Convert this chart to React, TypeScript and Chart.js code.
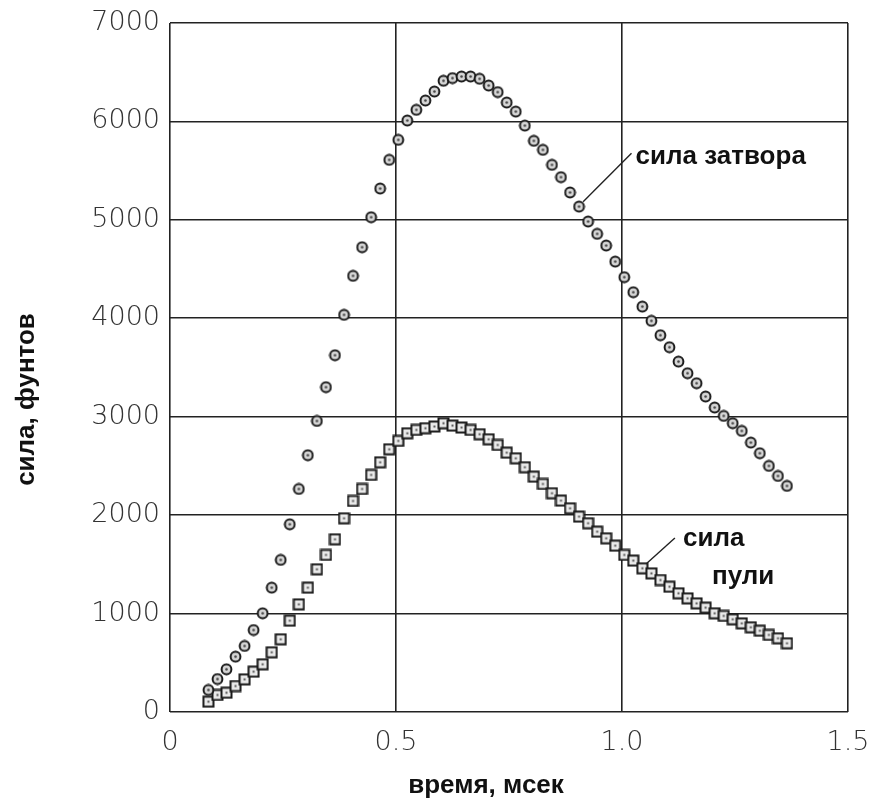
import React, { useEffect, useRef } from "react";
import { Chart, registerables } from "chart.js";

Chart.register(...registerables);

// time, msec
const timeMs = [
  0.085, 0.105, 0.125, 0.145, 0.165, 0.185, 0.205, 0.225, 0.245, 0.265,
  0.285, 0.305, 0.325, 0.345, 0.365, 0.385, 0.405, 0.425, 0.445, 0.465,
  0.485, 0.505, 0.525, 0.545, 0.565, 0.585, 0.605, 0.625, 0.645, 0.665,
  0.685, 0.705, 0.725, 0.745, 0.765, 0.785, 0.805, 0.825, 0.845, 0.865,
  0.885, 0.905, 0.925, 0.945, 0.965, 0.985, 1.005, 1.025, 1.045, 1.065,
  1.085, 1.105, 1.125, 1.145, 1.165, 1.185, 1.205, 1.225, 1.245, 1.265,
  1.285, 1.305, 1.325, 1.345, 1.365,
];

// сила затвора (circles), lb
const boltForce = [
  224, 335, 434, 562, 671, 833, 1003, 1263, 1545, 1907,
  2266, 2609, 2957, 3300, 3625, 4035, 4431, 4722, 5027, 5318,
  5610, 5813, 6009, 6118, 6212, 6304, 6413, 6440, 6456, 6456,
  6433, 6365, 6298, 6192, 6100, 5958, 5803, 5711, 5559, 5434,
  5278, 5135, 4983, 4858, 4739, 4576, 4418, 4265, 4119, 3974,
  3828, 3706, 3560, 3442, 3340, 3205, 3093, 3008, 2934, 2856,
  2737, 2629, 2500, 2398, 2297,
];

// сила пули (squares), lb
const bulletForce = [
  105, 173, 196, 264, 332, 410, 485, 607, 739, 928,
  1094, 1263, 1450, 1596, 1755, 1968, 2144, 2266, 2409, 2537,
  2669, 2754, 2832, 2866, 2883, 2900, 2934, 2910, 2890, 2866,
  2822, 2771, 2713, 2635, 2578, 2487, 2391, 2317, 2223, 2148,
  2070, 1985, 1918, 1832, 1765, 1690, 1596, 1538, 1460, 1409,
  1341, 1273, 1206, 1155, 1104, 1060, 1003, 976, 942, 901,
  861, 826, 783, 749, 698,
];

const xTicks = [0, 0.5, 1.0, 1.5];
const xTickLabels = ["0", "0.5", "1.0", "1.5"];
const yTicks = [0, 1000, 2000, 3000, 4000, 5000, 6000, 7000];

const xTitle = "время, мсек";
const yTitle = "сила, фунтов";
const boltLabel = "сила затвора";
const bulletLabel1 = "сила";
const bulletLabel2 = "пули";

function makeCircleMarker(): HTMLCanvasElement {
  const c = document.createElement("canvas");
  c.width = 13;
  c.height = 13;
  const g = c.getContext("2d")!;
  g.beginPath();
  g.arc(6.5, 6.5, 4.9, 0, Math.PI * 2);
  g.fillStyle = "#d6d6d6";
  g.fill();
  g.lineWidth = 2;
  g.strokeStyle = "#1a1a1a";
  g.stroke();
  g.beginPath();
  g.arc(6.5, 6.5, 1.3, 0, Math.PI * 2);
  g.fillStyle = "#444";
  g.fill();
  return c;
}

function makeSquareMarker(): HTMLCanvasElement {
  const c = document.createElement("canvas");
  c.width = 13;
  c.height = 13;
  const g = c.getContext("2d")!;
  g.fillStyle = "#eaeaea";
  g.fillRect(1.5, 1.5, 10, 10);
  g.lineWidth = 2;
  g.strokeStyle = "#1a1a1a";
  g.strokeRect(1.5, 1.5, 10, 10);
  g.fillStyle = "#555";
  g.fillRect(5.5, 5.5, 2, 2);
  return c;
}

const annotationPlugin = {
  id: "annots",
  afterDraw(chart: any) {
    const { ctx, scales, chartArea } = chart;
    const xs = scales.x;
    const ys = scales.y;
    const px = (v: number) => xs.getPixelForValue(v);
    const py = (v: number) => ys.getPixelForValue(v);
    ctx.save();
    ctx.fillStyle = "#111";
    ctx.strokeStyle = "#222";
    ctx.lineWidth = 1.4;
    ctx.font = 'bold 26px "Liberation Sans", Arial, sans-serif';
    ctx.textBaseline = "middle";
    ctx.textAlign = "left";
    // bolt force label
    ctx.beginPath();
    ctx.moveTo(px(1.021), py(5677));
    ctx.lineTo(px(0.914), py(5184));
    ctx.stroke();
    ctx.fillText(boltLabel, px(1.03), py(5640));
    // bullet force label
    ctx.beginPath();
    ctx.moveTo(px(1.117), py(1768));
    ctx.lineTo(px(1.055), py(1511));
    ctx.stroke();
    ctx.fillText(bulletLabel1, px(1.135), py(1760));
    ctx.fillText(bulletLabel2, px(1.199), py(1370));

    // axis titles
    ctx.textAlign = "center";
    ctx.fillText(xTitle, (chartArea.left + chartArea.right) / 2 - 23, 786);
    ctx.translate(27, (chartArea.top + chartArea.bottom) / 2 + 32);
    ctx.rotate(-Math.PI / 2);
    ctx.fillText(yTitle, 0, 0);
    ctx.restore();
  },
};

export default function App() {
  const ref = useRef<HTMLCanvasElement | null>(null);
  useEffect(() => {
    document.body.style.margin = "0";
    const canvas = ref.current!;
    const circle = makeCircleMarker();
    const square = makeSquareMarker();
    const chart = new Chart(canvas, {
      type: "scatter",
      data: {
        datasets: [
          {
            label: "сила затвора",
            data: timeMs.map((t, i) => ({ x: t, y: boltForce[i] })),
            pointStyle: circle as any,
            showLine: false,
          },
          {
            label: "сила пули",
            data: timeMs.map((t, i) => ({ x: t, y: bulletForce[i] })),
            pointStyle: square as any,
            showLine: false,
          },
        ],
      },
      options: {
        animation: false,
        responsive: false,
        events: [],
        layout: { padding: { top: 23, right: 27, left: 0, bottom: 0 } },
        plugins: {
          legend: { display: false },
          tooltip: { enabled: false },
        },
        scales: {
          x: {
            type: "linear",
            min: 0,
            max: 1.5,
            afterBuildTicks: (s: any) => {
              s.ticks = xTicks.map((v) => ({ value: v }));
            },
            afterFit: (s: any) => {
              s.height = 88;
              s.paddingLeft = 0;
              s.paddingRight = 0;
            },
            border: { display: false },
            grid: { color: "#222", lineWidth: 1.6, drawTicks: false },
            ticks: {
              padding: 15,
              color: "#333",
              font: { family: '"DejaVu Sans"', size: 27, weight: 200 as any },
              callback: (v: any) => {
                const i = xTicks.indexOf(Number(v));
                return i >= 0 ? xTickLabels[i] : "";
              },
            },
          },
          y: {
            type: "linear",
            min: 0,
            max: 7000,
            afterBuildTicks: (s: any) => {
              s.ticks = yTicks.map((v) => ({ value: v }));
            },
            afterFit: (s: any) => {
              s.width = 170;
              s.paddingTop = 0;
              s.paddingBottom = 0;
            },
            border: { display: false },
            grid: { color: "#222", lineWidth: 1.6, drawTicks: false },
            ticks: {
              padding: 10,
              color: "#333",
              font: { family: '"DejaVu Sans"', size: 27, weight: 200 as any },
              callback: (v: any) => String(v),
            },
          },
        },
      },
      plugins: [annotationPlugin],
    });
    return () => chart.destroy();
  }, []);
  return (
    <div style={{ width: 875, height: 800 }}>
      <canvas ref={ref} width={875} height={800} style={{ display: "block" }} />
    </div>
  );
}
